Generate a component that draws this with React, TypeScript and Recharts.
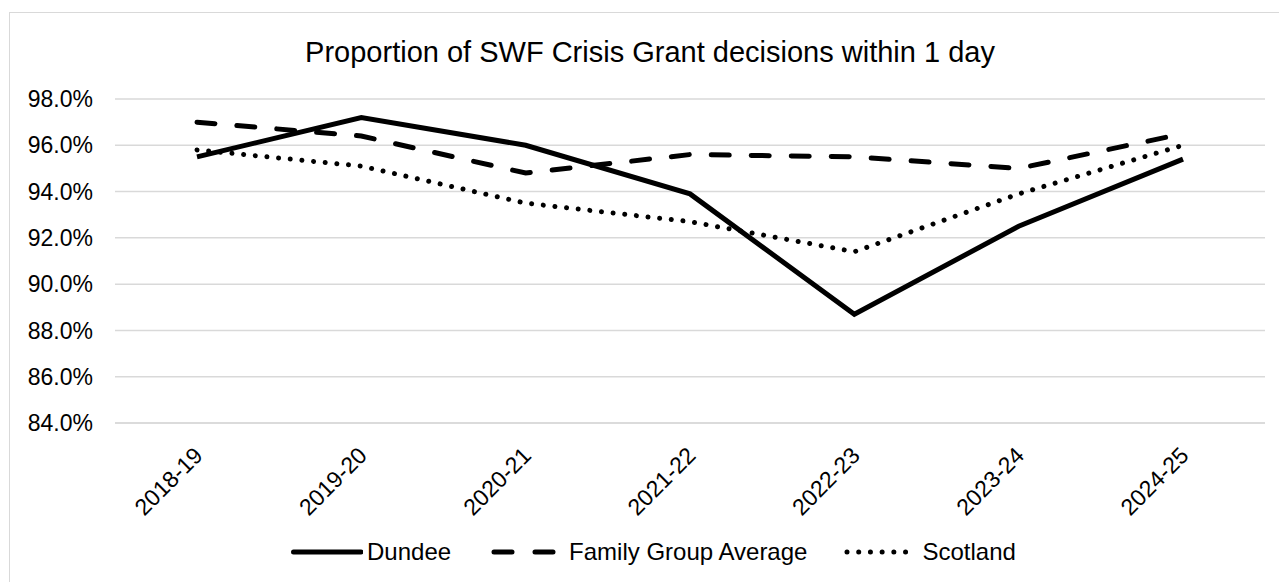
import React from 'react';
import { LineChart, Line, XAxis, YAxis, CartesianGrid } from 'recharts';

const categories = ['2018-19', '2019-20', '2020-21', '2021-22', '2022-23', '2023-24', '2024-25'];
const dundee = [95.5, 97.2, 96.0, 93.9, 88.7, 92.5, 95.4];
const familyGroup = [97.0, 96.4, 94.8, 95.6, 95.5, 95.0, 96.5];
const scotland = [95.8, 95.1, 93.5, 92.7, 91.4, 93.9, 96.0];
const yTicks = [84, 86, 88, 90, 92, 94, 96, 98];

const data = categories.map((c, i) => ({
  year: c,
  dundee: dundee[i],
  family: familyGroup[i],
  scotland: scotland[i],
}));

const FONT = '"Liberation Sans", Arial, sans-serif';
const FS = 23;
const LFS = 24;

const XTick = (props: any) => {
  const { x, y, payload } = props;
  const ax = x + 7;
  const ay = y + 34;
  return (
    <text
      x={ax}
      y={ay}
      transform={`rotate(-45 ${ax} ${ay})`}
      textAnchor="end"
      fontSize={FS}
      fontFamily={FONT}
      fill="#000"
    >
      {payload.value}
    </text>
  );
};

const DASH = '18 22';
const DOT = '0.01 11.7';

export default function App() {
  return (
    <div style={{ position: 'fixed', left: 0, top: 0, width: 1279, height: 582, overflow: 'hidden', background: '#fff' }}>
      <div style={{ position: 'absolute', left: 9, top: 12, width: 1400, height: 700, border: '1px solid #d9d9d9' }} />
      <div
        style={{
          position: 'absolute',
          left: 0,
          top: 36,
          width: 1300,
          textAlign: 'center',
          fontFamily: FONT,
          fontSize: 29,
          lineHeight: '32px',
          color: '#000',
        }}
      >
        Proportion of SWF Crisis Grant decisions within 1 day
      </div>
      <div style={{ position: 'absolute', left: 0, top: 0 }}>
        <LineChart width={1279} height={582} data={data} margin={{ top: 99, right: 14, bottom: 59, left: 35 }}>
          <CartesianGrid horizontal vertical={false} stroke="#d9d9d9" strokeWidth={1.5} />
          <XAxis
            dataKey="year"
            height={100}
            axisLine={{ stroke: '#d9d9d9', strokeWidth: 1.5 }}
            tickLine={false}
            tickSize={0}
            tickMargin={0}
            padding={{ left: 82, right: 82 }}
            tick={<XTick />}
            interval={0}
          />
          <YAxis
            width={80}
            domain={[84, 98]}
            ticks={yTicks}
            axisLine={false}
            tickLine={false}
            tickSize={0}
            tickMargin={22}
            tickFormatter={(v: number) => v.toFixed(1) + '%'}
            tick={{ fontSize: FS, fontFamily: FONT, fill: '#000' }}
            allowDataOverflow
          />
          <Line dataKey="dundee" stroke="#000" strokeWidth={5} dot={false} isAnimationActive={false} strokeLinejoin="miter" />
          <Line dataKey="family" stroke="#000" strokeWidth={5} dot={false} isAnimationActive={false} strokeDasharray={DASH} strokeLinecap="round" />
          <Line dataKey="scotland" stroke="#000" strokeWidth={5} dot={false} isAnimationActive={false} strokeDasharray={DOT} strokeLinecap="round" />
        </LineChart>
      </div>
      <div
        style={{
          position: 'absolute',
          left: 291,
          top: 536,
          height: 32,
          display: 'flex',
          alignItems: 'center',
          fontFamily: FONT,
          fontSize: LFS,
          color: '#000',
          whiteSpace: 'nowrap',
        }}
      >
        <svg width={72} height={10}>
          <line x1={2.5} y1={5} x2={70} y2={5} stroke="#000" strokeWidth={5} strokeLinecap="round" />
        </svg>
        <span style={{ marginLeft: 4 }}>Dundee</span>
        <svg width={68} height={10} style={{ marginLeft: 40 }}>
          <line x1={3} y1={5} x2={65} y2={5} stroke="#000" strokeWidth={5} strokeLinecap="round" strokeDasharray="18 23" />
        </svg>
        <span style={{ marginLeft: 10 }}>Family Group Average</span>
        <svg width={68} height={10} style={{ marginLeft: 37 }}>
          <line x1={3} y1={5} x2={64} y2={5} stroke="#000" strokeWidth={5} strokeLinecap="round" strokeDasharray={DOT} />
        </svg>
        <span style={{ marginLeft: 10 }}>Scotland</span>
      </div>
    </div>
  );
}
